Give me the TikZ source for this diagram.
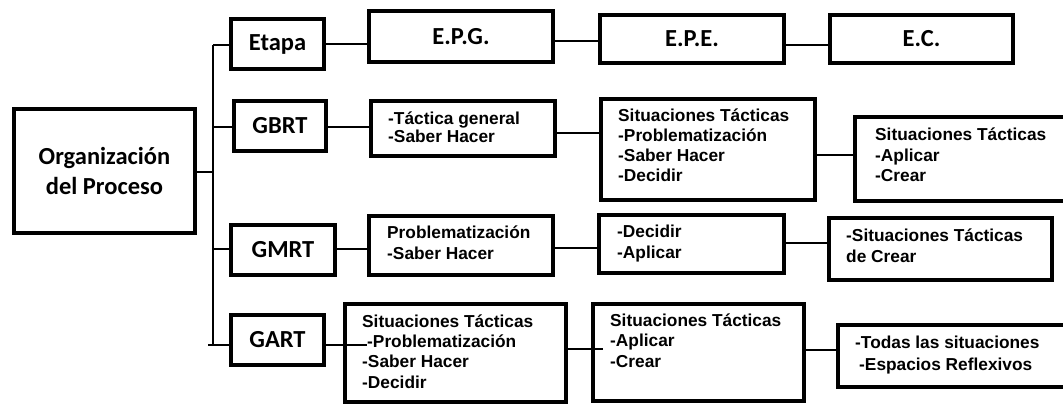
\documentclass[tikz,border=0pt]{standalone}
\usepackage{fontspec}
\setmainfont{Liberation Sans}
\newfontfamily\calfont{Carlito}
\begin{document}
\begin{tikzpicture}[x=1pt,y=-1pt,
  box/.style={draw, line width=3.8pt, inner sep=0pt},
  lbl/.style={font=\calfont\bfseries\fontsize{24.5}{30}\selectfont, align=center},
  txt/.style={font=\bfseries\fontsize{17.3}{20}\selectfont, align=left, anchor=west, inner sep=0pt},
  conn/.style={line width=2pt}]
\useasboundingbox (0,0) rectangle (1063,408);
\clip (0,0) rectangle (1063,408);
\fill[white] (0,0) rectangle (1063,408);
% left column
\node[box, lbl, minimum width=181.5pt, minimum height=124.5pt] (org) at (104.5,171) {Organización\\del Proceso};
\node[box, lbl, minimum width=93.5pt, minimum height=50.5pt] (etapa) at (277.5,44) {Etapa};
\node[box, lbl, minimum width=92.5pt, minimum height=50.5pt] (gbrt) at (280,126) {GBRT};
\node[box, lbl, minimum width=104.5pt, minimum height=50.5pt] (gmrt) at (283,250) {GMRT};
\node[box, lbl, minimum width=93.5pt, minimum height=50.5pt] (gart) at (277.5,340) {GART};
% row 1
\node[box, lbl, minimum width=184.5pt, minimum height=51.5pt] (epg) at (461,36.5) {E.P.G.};
\node[box, lbl, minimum width=184.5pt, minimum height=48.5pt] (epe) at (692,39) {E.P.E.};
\node[box, lbl, minimum width=183.5pt, minimum height=48.5pt] (ec) at (921.5,39) {E.C.};
% row 2
\node[box, minimum width=184.5pt, minimum height=55.5pt] (tact) at (463,128.5) {};
\node[box, minimum width=214.5pt, minimum height=101.5pt] (sit1) at (708,149.5) {};
\node[box, minimum width=213.5pt, minimum height=84.5pt] (sit2) at (961.5,159) {};
\node[txt, font=\bfseries\fontsize{17.3}{18}\selectfont] (ttact) at (388,127) {-Táctica general\\-Saber Hacer};
\node[txt] (tsit1) at (618,145) {Situaciones Tácticas\\-Problematización\\-Saber Hacer\\-Decidir};
\node[txt, font=\bfseries\fontsize{17.3}{20.5}\selectfont] (tsit2) at (875,155) {Situaciones Tácticas\\-Aplicar\\-Crear};
% row 3
\node[box, minimum width=184.5pt, minimum height=59.5pt] (prob) at (461,245.5) {};
\node[box, minimum width=185.5pt, minimum height=58.5pt] (dec) at (691.5,244) {};
\node[box, minimum width=223.5pt, minimum height=62.5pt] (crear) at (940.5,249) {};
\node[txt, font=\bfseries\fontsize{17.3}{21}\selectfont] (tprob) at (387,243) {Problematización\\-Saber Hacer};
\node[txt, font=\bfseries\fontsize{17.3}{21}\selectfont] (tdec) at (617,244) {-Decidir\\-Aplicar};
\node[txt, font=\bfseries\fontsize{17.3}{21}\selectfont] (tcrear) at (846,246) {-Situaciones Tácticas\\de Crear};
% row 4
\node[box, minimum width=221.5pt, minimum height=98.5pt] (sit3) at (455.5,353) {};
\node[box, minimum width=211.5pt, minimum height=97.5pt] (sit4) at (698.5,352.5) {};
\node[box, minimum width=230.5pt, minimum height=62.5pt] (todas) at (953,356) {};
\node[txt, font=\bfseries\fontsize{17.3}{20.3}\selectfont] (tsit3) at (362,351.5) {Situaciones Tácticas\\\hspace{5pt}-Problematización\\-Saber Hacer\\-Decidir};
\node[txt, font=\bfseries\fontsize{17.3}{20.5}\selectfont] (tsit4) at (610,340.5) {Situaciones Tácticas\\-Aplicar\\-Crear};
\node[txt, font=\bfseries\fontsize{17.3}{22}\selectfont] (ttodas) at (855,355) {-Todas las situaciones\\\hspace{4pt}-Espacios Reflexivos};
% bus
\coordinate (bt) at (213,45);
\coordinate (bo) at (213,172);
\coordinate (b2) at (213,127);
\coordinate (b3) at (213,249);
\coordinate (bb) at (213,345);
\coordinate (bbl) at (208,345);
\draw[conn] (bt) -- (bb);
\draw[conn] (bo) -- (bo -| org.east);
\draw[conn] (bt) -- (bt -| etapa.west);
\draw[conn] (b2) -- (b2 -| gbrt.west);
\draw[conn] (b3) -- (b3 -| gmrt.west);
\draw[conn] (bbl) -- (bb -| gart.west);
% row connectors
\coordinate (r1a) at (0,44);
\coordinate (r1b) at (0,41);
\coordinate (r1c) at (0,45);
\draw[conn] (r1a -| etapa.east) -- (r1a -| epg.west);
\draw[conn] (r1b -| epg.east) -- (r1b -| epe.west);
\draw[conn] (r1c -| epe.east) -- (r1c -| ec.west);
\coordinate (r2a) at (0,127);
\coordinate (r2b) at (0,133);
\coordinate (r2c) at (0,155);
\draw[conn] (r2a -| gbrt.east) -- (r2a -| tact.west);
\draw[conn] (r2b -| tact.east) -- (r2b -| sit1.west);
\draw[conn] (r2c -| sit1.east) -- (r2c -| sit2.west);
\coordinate (r3a) at (0,249);
\coordinate (r3b) at (0,248);
\coordinate (r3c) at (0,243);
\draw[conn] (r3a -| gmrt.east) -- (r3a -| prob.west);
\draw[conn] (r3b -| prob.east) -- (r3b -| dec.west);
\draw[conn] (r3c -| dec.east) -- (r3c -| crear.west);
\coordinate (r4a) at (367,345);
\coordinate (r4b) at (603,349);
\coordinate (r4c) at (840,350);
\draw[conn] (r4a -| gart.east) -- (r4a);
\draw[conn] (r4b -| sit3.east) -- (r4b);
\draw[conn] (r4c -| sit4.east) -- (r4c);
\end{tikzpicture}
\end{document}
